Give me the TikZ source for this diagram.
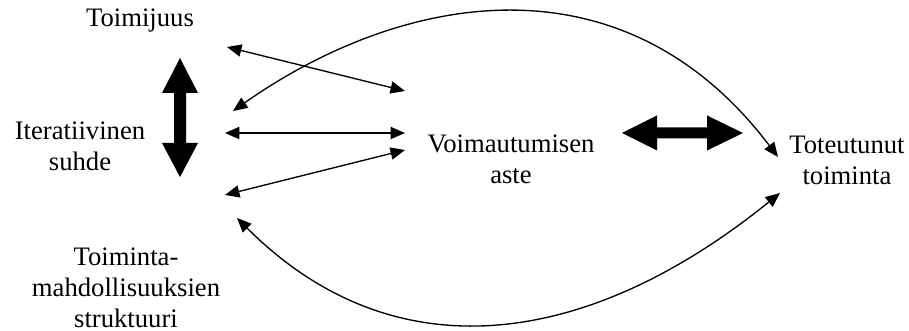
\documentclass[tikz,border=0pt]{standalone}
\usepackage{fontspec}
\setmainfont{Liberation Serif}
\usepackage{tikz}
\usetikzlibrary{arrows.meta}

\begin{document}
\begin{tikzpicture}[x=0.45pt, y=-0.45pt,
            lbl/.style={align=center, inner sep=0pt, font=\fontsize{12}{14}\selectfont},
            link/.style={line width=0.6pt, {Triangle[length=6.5pt,width=5.5pt]}-{Triangle[length=6.5pt,width=5.5pt]}},
            block/.style={fill=black}]
            \useasboundingbox (0,0) rectangle (909,331);
            % Labels
            \node[lbl] (toim) at (140,21) {Toimijuus};
            \node[lbl] (iter) at (80,146) {Iteratiivinen\\suhde};
            \node[lbl] (strk) at (126,288) {Toiminta-\\mahdollisuuksien\\struktuuri};
            \node[lbl] (voim) at (511,159) {Voimautumisen\\aste};
            \node[lbl] (tot) at (847,160) {Toteutunut\\toiminta};
            % Arrow ends
            \coordinate (toim-r) at (227,47);
            \coordinate (iter-ur) at (233,111);
            \coordinate (iter-r) at (225,133);
            \coordinate (strk-ur) at (225,195);
            \coordinate (strk-r) at (237,218);
            \coordinate (voim-ul) at (405,91);
            \coordinate (voim-l) at (405,133);
            \coordinate (voim-ll) at (405,150);
            \coordinate (tot-ul) at (778,157);
            \coordinate (tot-ll) at (780,193);
            % Thin arrows
            \draw[link] (toim-r) -- (voim-ul);
            \draw[link] (iter-r) -- (voim-l);
            \draw[link] (strk-ur) -- (voim-ll);
            \draw[link] (iter-ur) .. controls +(168,-118) and +(-156,-206) .. (tot-ul);
            \draw[link] (strk-r) .. controls +(157,157) and +(-193,156) .. (tot-ll);
            % Block arrows
            \fill[block] (180,58) -- (198,93) -- (186,93) -- (186,143) -- (198,143) -- (180,177)
                -- (162,143) -- (174,143) -- (174,93) -- (162,93) -- cycle;
            \fill[block] (622,133) -- (657,115.5) -- (657,127.5) -- (707,127.5) -- (707,115.5) -- (743,133)
                -- (707,150.5) -- (707,138.5) -- (657,138.5) -- (657,150.5) -- cycle;
        \end{tikzpicture}
\end{document}
